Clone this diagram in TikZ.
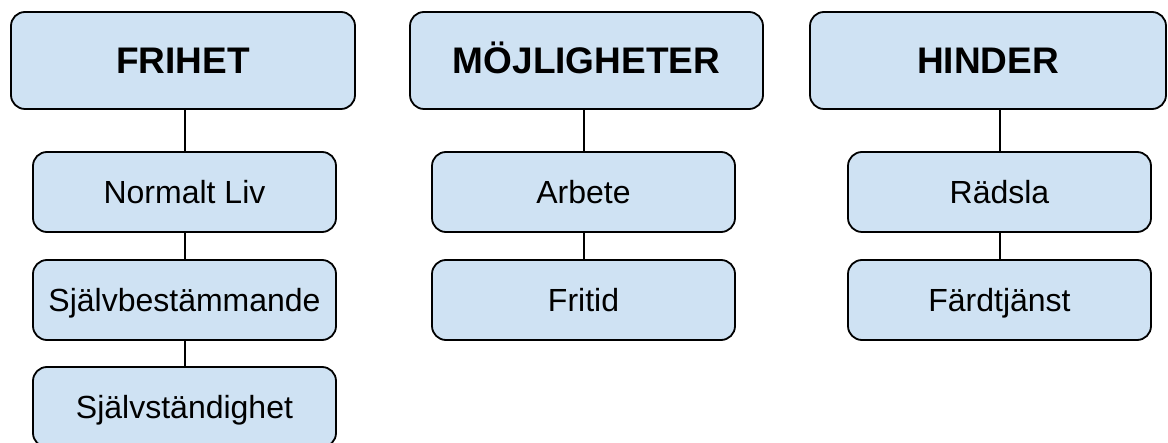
\documentclass[tikz,border=0pt]{standalone}
\usepackage{fontspec}
\setmainfont{Liberation Sans}
\definecolor{boxblue}{HTML}{CFE2F3}

\begin{document}
\begin{tikzpicture}[x=1pt,y=-1pt,
  every node/.style={draw=black,fill=boxblue,line width=1.8pt,rectangle,rounded corners=14pt,inner sep=0pt},
  head/.style={minimum width=344pt,minimum height=97pt,text height=27pt,text depth=0pt,
    font=\fontsize{37}{40}\selectfont\bfseries},
  item/.style={minimum width=303pt,minimum height=80pt,text height=23pt,text depth=0pt,
    font=\fontsize{32}{36}\selectfont},
  link/.style={line width=2pt,draw=black}]
\useasboundingbox (0,0) rectangle (1168,443);
\node[head]                       (a0) at (183,60.5)   { FRIHET };
\node[item]                       (a1) at (184.5,192)  { Normalt Liv };
\node[item]                       (a2) at (184.5,300)  { Självbestämmande };
\node[item]                       (a3) at (184.5,407)  { Självständighet };
\node[head,minimum width=353pt]   (b0) at (586.5,60.5) { MÖJLIGHETER };
\node[item]                       (b1) at (583.5,192)  { Arbete };
\node[item]                       (b2) at (583.5,300)  { Fritid };
\node[head,minimum width=356pt]   (c0) at (988,60.5)   { HINDER };
\node[item]                       (c1) at (999.5,192)  { Rädsla };
\node[item]                       (c2) at (999.5,300)  { Färdtjänst };
\draw[link] (a1) edge (a1 |- a0.south);
\draw[link] (a2) edge (a2 |- a1.south);
\draw[link] (a3) edge (a3 |- a2.south);
\draw[link] (b1) edge (b1 |- b0.south);
\draw[link] (b2) edge (b2 |- b1.south);
\draw[link] (c1) edge (c1 |- c0.south);
\draw[link] (c2) edge (c2 |- c1.south);
\end{tikzpicture}
\end{document}
